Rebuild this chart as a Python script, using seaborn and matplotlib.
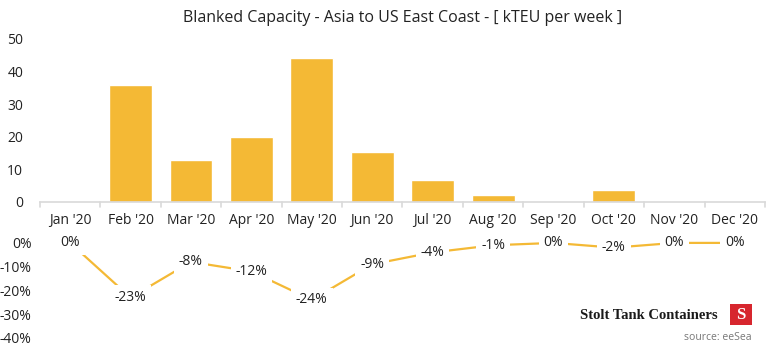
import matplotlib
matplotlib.use("Agg")
import matplotlib.pyplot as plt
import seaborn as sns
import pandas as pd
from matplotlib.patches import FancyBboxPatch

months = ["Jan '20", "Feb '20", "Mar '20", "Apr '20", "May '20", "Jun '20",
          "Jul '20", "Aug '20", "Sep '20", "Oct '20", "Nov '20", "Dec '20"]
blanked_kteu = [0, 36, 13, 20, 44, 15.3, 6.7, 2.2, 0, 3.8, 0, 0]
blanked_pct = [0, -23, -8, -12, -24, -9, -4, -1, 0, -2, 0, 0]

YELLOW = "#F4B935"
TEXT = "#222222"

sns.set_theme(style="white")
plt.rcParams["font.family"] = ["Open Sans", "DejaVu Sans"]

df = pd.DataFrame({"month": months, "kteu": blanked_kteu, "pct": blanked_pct})
df["pos"] = range(len(months))

fig = plt.figure(figsize=(7.68, 3.47), dpi=100)
ax_top = fig.add_axes([0.052, 0.418, 0.944, 0.47])
ax_bot = fig.add_axes([0.052, 0.026, 0.944, 0.274])

# Monthly blanked capacity bars
sns.barplot(data=df, x="month", y="kteu", color=YELLOW, width=0.71,
            saturation=1, ax=ax_top)
ax_top.set_ylim(0, 50)
ax_top.set_xlim(-0.5, len(months) - 0.5)
ax_top.set_yticks([0, 10, 20, 30, 40, 50])
ax_top.set_xlabel("")
ax_top.set_ylabel("")
for s in ["top", "right", "left"]:
    ax_top.spines[s].set_visible(False)
ax_top.spines["bottom"].set_color("#d9d9d9")
ax_top.spines["bottom"].set_linewidth(1.2)
ax_top.tick_params(axis="x", length=0, pad=8, labelsize=10, colors=TEXT)
ax_top.tick_params(axis="y", length=0, pad=12, labelsize=10, colors=TEXT)
for b in range(len(months) + 1):
    ax_top.plot([b - 0.5, b - 0.5], [0, -1.6], color="#d9d9d9", lw=1.2,
                clip_on=False)
ax_top.set_title("Blanked Capacity - Asia to US East Coast - [ kTEU per week ]",
                 fontsize=11.5, color=TEXT, pad=12)

# Share of capacity blanked
sns.lineplot(data=df, x="pos", y="pct", color=YELLOW, linewidth=1.6,
             ax=ax_bot)
for ln in ax_bot.lines:
    ln.set_clip_on(False)
for x, v in zip(df["pos"], df["pct"]):
    ax_bot.text(x, v, f"{v}%", ha="center", va="center", fontsize=10,
                color=TEXT, clip_on=False,
                bbox=dict(boxstyle="square,pad=0.35", fc="white", ec="none"))
ax_bot.set_xlim(-0.5, len(months) - 0.5)
ax_bot.set_ylim(-40, 0)
ax_bot.set_yticks([0, -10, -20, -30, -40])
ax_bot.set_yticklabels(["0%", "-10%", "-20%", "-30%", "-40%"])
ax_bot.set_xticks([])
ax_bot.set_xlabel("")
ax_bot.set_ylabel("")
for s in ax_bot.spines.values():
    s.set_visible(False)
ax_bot.tick_params(axis="y", length=0, pad=6, labelsize=10, colors=TEXT)

# Branding
fig.text(0.935, 0.092, "Stolt Tank Containers", ha="right", va="center",
         fontsize=10.5, fontweight="bold", family="Liberation Serif",
         color="#1a1a1a")
logo = FancyBboxPatch((0.951, 0.062), 0.028, 0.062, boxstyle="square,pad=0",
                      transform=fig.transFigure, fc="#d7262e", ec="none")
fig.patches.append(logo)
fig.text(0.965, 0.093, "S", ha="center", va="center", fontsize=12,
         fontweight="bold", family="Liberation Serif", color="white")
fig.text(0.979, 0.028, "source: eeSea", ha="right", va="center",
         fontsize=7.5, color="#777777")

fig.savefig("out.png", dpi=100)
